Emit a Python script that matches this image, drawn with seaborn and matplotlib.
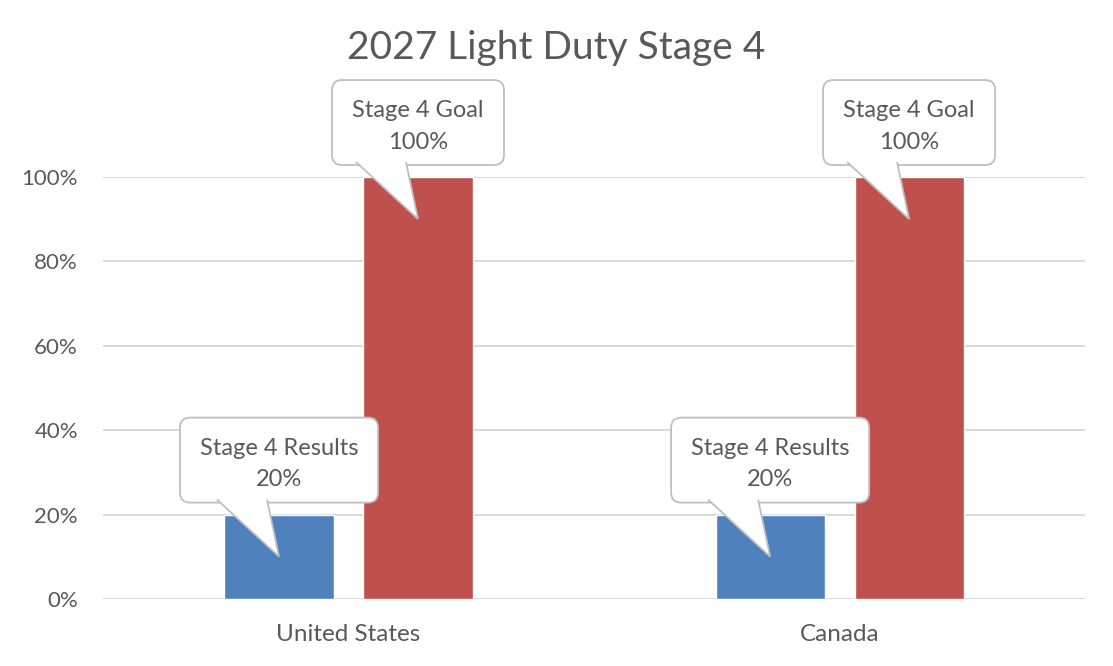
import pandas as pd
import matplotlib.pyplot as plt
import seaborn as sns
from matplotlib.patches import FancyBboxPatch, Polygon
from matplotlib.ticker import PercentFormatter

# Chart data
countries = ["United States", "Canada"]
series = ["Stage 4 Results", "Stage 4 Goal"]
results = [20, 20]
goal = [100, 100]
yticks = [0, 20, 40, 60, 80, 100]

df = pd.DataFrame({
    "country": countries * 2,
    "series": [series[0]] * len(countries) + [series[1]] * len(countries),
    "value": results + goal,
})

sns.set_theme(style="white")
plt.rcParams["font.family"] = ["Lato", "DejaVu Sans"]
text_gray = "#595959"
line_gray = "#D9D9D9"
box_edge = "#BFBFBF"

fig = plt.figure(figsize=(11.13, 6.66), dpi=100)
ax = fig.add_axes([0.0925, 0.1006, 0.8825, 0.6336])

sns.barplot(data=df, x="country", y="value", hue="series", order=countries,
            hue_order=series, palette=["#4F81BD", "#C0504D"], width=0.566,
            gap=0.215, saturation=1, legend=False, ax=ax)

ax.set_xlim(-0.5, 1.5)
ax.set_ylim(0, 100)
ax.set_yticks(yticks)
ax.yaxis.set_major_formatter(PercentFormatter(decimals=0))
ax.yaxis.grid(True, color=line_gray, lw=1.4)
ax.set_axisbelow(True)
for s in ax.spines.values():
    s.set_visible(False)
ax.set_xlabel("")
ax.set_ylabel("")
ax.tick_params(axis="y", length=0, pad=18, labelsize=16, labelcolor=text_gray)
ax.tick_params(axis="x", length=0, pad=18, labelsize=17.5, labelcolor=text_gray)

fig.text(0.5, 0.928, "2027 Light Duty Stage 4", ha="center", va="center",
         fontsize=28, color=text_gray)

# callouts (sizes in pixels, converted to data units)
bb = ax.get_window_extent()
sx = (ax.get_xlim()[1] - ax.get_xlim()[0]) / bb.width
sy = (ax.get_ylim()[1] - ax.get_ylim()[0]) / bb.height
box_w = {"Stage 4 Results": 198, "Stage 4 Goal": 172}
box_h = 85
box_gap = 12

for cont, name in zip(ax.containers, series):
    for bar in cont:
        cx = bar.get_x() + bar.get_width() / 2
        top = bar.get_height()
        w = box_w[name] * sx
        h = box_h * sy
        y0 = top + box_gap * sy
        box = FancyBboxPatch((cx - w / 2, y0), w, h,
                             boxstyle=f"round,pad=0,rounding_size={10 * sx}",
                             mutation_aspect=sy / sx, fc="white", ec=box_edge,
                             lw=1.3, clip_on=False, zorder=5)
        ax.add_patch(box)
        ptr = Polygon([(cx - 62 * sx, y0 + 3 * sy), (cx, top - 42 * sy),
                       (cx - 12 * sx, y0 + 3 * sy)], closed=False,
                      fc="white", ec=box_edge, lw=1.3, clip_on=False, zorder=6)
        ax.add_patch(ptr)
        ax.text(cx, y0 + h / 2 - 4 * sy, f"{name}\n{top:.0f}%", ha="center",
                va="center", fontsize=17, color=text_gray, linespacing=1.6,
                zorder=7)

fig.savefig("out.png", dpi=100, facecolor="white")
